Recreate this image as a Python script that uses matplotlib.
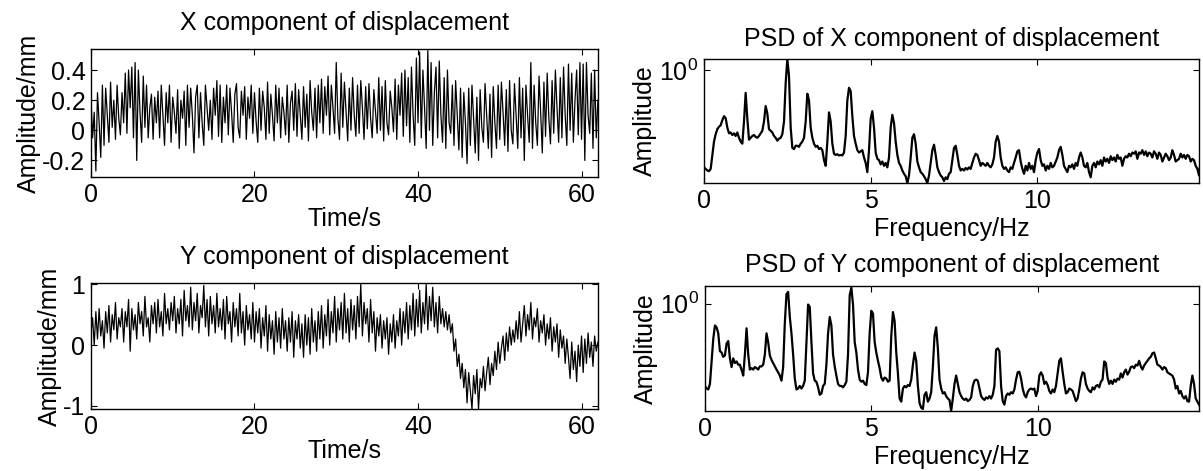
import numpy as np
import matplotlib
matplotlib.use("Agg")
import matplotlib.pyplot as plt
from matplotlib.ticker import FormatStrFormatter, NullLocator, FixedLocator

plt.rcParams['font.family'] = ['Liberation Sans', 'DejaVu Sans']
plt.rcParams['axes.unicode_minus'] = False

# ---- displacement time series (0.2 s spacing) ----
dt = 0.2
disp_x = [
    0.22, -0.05, 0.12, -0.27, 0.25, 0.05, -0.18, 0.30, -0.10, 0.28, 0.10, -0.08, 0.32, 0.02, 0.20, -0.06, 0.30, 0.08, -0.03, 0.25,
    0.05, 0.38, -0.02, 0.40, 0.15, 0.42, -0.05, 0.45, -0.20, 0.40, 0.12, -0.08, 0.36, 0.02, 0.30, -0.05, 0.15, 0.24, -0.06, 0.22,
    0.05, 0.26, -0.05, 0.30, 0.10, -0.10, 0.25, 0.05, 0.30, -0.08, 0.22, 0.12, -0.02, 0.27, -0.12, 0.20, 0.08, 0.26, -0.10, 0.30,
    0.02, 0.28, 0.10, -0.15, 0.22, 0.30, -0.05, 0.25, 0.05, -0.10, 0.30, 0.15, 0.00, 0.20, -0.06, 0.28, 0.10, 0.33, -0.04, 0.30,
    -0.08, 0.22, 0.05, 0.30, -0.03, 0.28, 0.12, -0.08, 0.24, 0.31, 0.02, -0.05, 0.26, 0.10, 0.29, -0.06, 0.22, 0.08, 0.30, -0.02,
    0.25, 0.06, -0.08, 0.28, 0.00, 0.26, 0.15, -0.06, 0.32, -0.02, 0.24, 0.10, -0.07, 0.30, 0.05, 0.28, -0.05, 0.22, 0.12, -0.03,
    0.30, -0.08, 0.18, 0.26, 0.00, 0.31, -0.04, 0.27, 0.10, -0.06, 0.29, 0.02, 0.24, -0.07, 0.33, 0.12, 0.00, 0.28, -0.05, 0.30,
    0.05, 0.34, -0.02, 0.29, 0.10, 0.36, -0.03, 0.30, 0.15, -0.02, 0.45, 0.08, -0.06, 0.38, 0.02, 0.32, 0.12, -0.07, 0.28, 0.00,
    0.35, 0.10, -0.04, 0.30, -0.02, 0.33, 0.15, -0.06, 0.29, 0.01, 0.31, 0.08, -0.05, 0.27, 0.12, -0.02, 0.35, 0.00, 0.29, -0.07,
    0.33, 0.05, -0.03, 0.26, 0.15, -0.01, 0.34, -0.06, 0.30, 0.10, 0.38, -0.04, 0.40, 0.03, 0.35, -0.08, 0.42, 0.10, -0.10, 0.48,
    0.05, 0.52, -0.05, 0.40, 0.15, -0.12, 0.53, 0.00, 0.45, -0.10, 0.25, 0.42, -0.05, 0.46, 0.10, -0.08, 0.35, -0.12, 0.40, 0.05,
    -0.02, 0.30, -0.10, 0.33, 0.10, -0.13, 0.28, -0.18, 0.25, 0.05, -0.22, 0.28, -0.10, 0.30, 0.08, -0.15, 0.22, -0.20, 0.27, 0.02,
    -0.08, 0.31, 0.10, -0.12, 0.24, -0.18, 0.29, 0.05, -0.12, 0.30, -0.06, 0.32, 0.12, -0.10, 0.27, -0.14, 0.33, 0.00, -0.09, 0.31,
    0.10, -0.12, 0.35, -0.05, 0.28, -0.20, 0.30, 0.10, -0.08, 0.45, -0.12, 0.30, 0.05, -0.10, 0.36, 0.12, -0.15, 0.32, -0.04, 0.38,
    0.08, -0.09, 0.33, -0.02, 0.40, 0.15, -0.08, 0.35, -0.05, 0.42, 0.10, -0.10, 0.44, 0.00, 0.38, -0.08, 0.20, 0.40, -0.03, 0.45,
    -0.06, 0.44, -0.20, 0.45, 0.10, -0.02, 0.38, -0.12, 0.40, -0.05, 0.20,
]
disp_y = [
    0.20, 0.45, 0.00, 0.55, 0.10, 0.60, 0.15, 0.40, -0.05, 0.55, 0.20, 0.65, 0.05, 0.50, 0.25, 0.70, 0.10, 0.45, 0.30, 0.60,
    0.05, 0.55, 0.30, 0.75, -0.10, 0.60, 0.25, 0.50, 0.10, 0.70, 0.35, 0.55, 0.15, 0.80, 0.30, 0.45, 0.05, 0.65, 0.35, 0.70,
    0.20, 0.75, 0.30, 0.55, 0.15, 0.85, 0.35, 0.60, 0.25, 0.70, 0.40, 0.80, 0.20, 0.60, 0.35, 0.75, 0.15, 0.90, 0.40, 0.65,
    0.30, 0.95, 0.25, 0.70, 0.40, 0.85, 0.20, 0.65, 0.45, 0.98, 0.30, 0.75, 0.15, 0.80, 0.35, 0.65, 0.20, 0.85, 0.30, 0.60,
    0.25, 0.75, 0.10, 0.80, 0.35, 0.55, 0.05, 0.70, 0.30, 0.60, 0.15, 0.85, 0.20, 0.55, 0.00, 0.65, 0.25, 0.50, 0.10, 0.70,
    0.05, 0.55, 0.20, 0.60, -0.05, 0.45, 0.15, 0.65, -0.10, 0.50, 0.10, 0.40, -0.15, 0.55, 0.05, 0.45, -0.05, 0.60, 0.10, 0.40,
    -0.10, 0.45, 0.05, 0.55, -0.20, 0.40, 0.10, 0.50, -0.05, 0.35, -0.20, 0.50, 0.00, 0.45, -0.15, 0.60, 0.05, 0.40, -0.10, 0.55,
    0.10, 0.65, -0.05, 0.50, 0.15, 0.75, 0.00, 0.55, 0.20, 0.80, 0.05, 0.60, 0.25, 0.70, 0.10, 0.85, 0.20, 0.60, 0.05, 0.75,
    0.25, 0.65, 0.10, 0.80, 0.30, 1.00, 0.15, 0.70, 0.35, 0.60, 0.05, 0.75, 0.20, 0.55, -0.10, 0.45, 0.15, 0.50, -0.05, 0.40,
    0.10, 0.45, -0.15, 0.35, 0.05, 0.50, -0.05, 0.40, 0.15, 0.60, 0.00, 0.55, 0.20, 0.70, 0.10, 0.65, 0.25, 0.85, 0.15, 0.75,
    0.30, 0.90, 0.20, 0.70, 0.35, 1.00, 0.25, 0.80, 0.40, 0.95, 0.30, 0.70, 0.20, 0.80, 0.35, 0.60, 0.30, 0.55, 0.25, 0.50,
    0.20, 0.35, -0.10, 0.10, -0.35, -0.15, -0.55, -0.30, -0.70, -0.40, -0.95, -0.45, -0.75, -1.05, -0.50, -0.80, -0.40, -1.05, -0.55, -0.70,
    -0.35, -0.75, -0.45, -0.20, -0.65, -0.30, -0.50, -0.10, -0.40, 0.05, -0.30, -0.05, 0.15, -0.25, 0.20, -0.10, 0.30, 0.00, 0.25, 0.05,
    0.40, 0.10, 0.55, 0.05, 0.35, 0.65, 0.15, 0.50, 0.25, 0.70, 0.10, 0.45, 0.30, 0.60, 0.05, 0.40, 0.20, 0.50, 0.00, 0.35,
    0.10, 0.45, -0.10, 0.30, 0.05, 0.35, -0.20, 0.25, -0.05, 0.15, -0.30, 0.10, -0.20, -0.55, 0.05, -0.40, -0.10, -0.60, 0.00, -0.35,
    0.15, -0.45, 0.10, -0.30, 0.20, -0.20, 0.05, -0.35, 0.15, -0.10, 0.05,
]

# ---- PSD curves (0.05 Hz spacing) ----
df = 0.05
psd_x = [
    0.195, 0.190, 0.185, 0.183, 0.190, 0.240, 0.300, 0.340, 0.370, 0.385, 0.395, 0.430, 0.460, 0.445, 0.380, 0.345, 0.350, 0.335, 0.345, 0.330,
    0.350, 0.320, 0.300, 0.290, 0.420, 0.680, 0.440, 0.310, 0.320, 0.330, 0.335, 0.325, 0.320, 0.330, 0.345, 0.360, 0.420, 0.545, 0.480, 0.370,
    0.360, 0.350, 0.330, 0.320, 0.305, 0.315, 0.320, 0.340, 0.420, 0.800, 1.200, 0.900, 0.380, 0.270, 0.265, 0.280, 0.280, 0.275, 0.290, 0.300,
    0.320, 0.420, 0.670, 0.600, 0.380, 0.320, 0.290, 0.275, 0.280, 0.265, 0.270, 0.260, 0.220, 0.200, 0.300, 0.490, 0.420, 0.290, 0.245, 0.240,
    0.243, 0.238, 0.240, 0.238, 0.250, 0.330, 0.600, 0.740, 0.700, 0.460, 0.330, 0.290, 0.260, 0.250, 0.255, 0.260, 0.230, 0.210, 0.180, 0.260,
    0.440, 0.500, 0.380, 0.250, 0.225, 0.220, 0.205, 0.215, 0.200, 0.210, 0.195, 0.230, 0.380, 0.470, 0.410, 0.300, 0.240, 0.210, 0.200, 0.185,
    0.175, 0.168, 0.150, 0.170, 0.230, 0.320, 0.340, 0.290, 0.215, 0.195, 0.180, 0.175, 0.168, 0.160, 0.150, 0.170, 0.210, 0.260, 0.285, 0.240,
    0.195, 0.180, 0.170, 0.165, 0.155, 0.165, 0.160, 0.175, 0.180, 0.220, 0.270, 0.280, 0.240, 0.200, 0.185, 0.190, 0.185, 0.193, 0.188, 0.195,
    0.190, 0.210, 0.230, 0.245, 0.240, 0.220, 0.200, 0.210, 0.205, 0.200, 0.210, 0.200, 0.195, 0.205, 0.230, 0.300, 0.330, 0.300, 0.230, 0.200,
    0.190, 0.195, 0.185, 0.180, 0.195, 0.190, 0.210, 0.230, 0.255, 0.260, 0.215, 0.190, 0.175, 0.200, 0.185, 0.210, 0.190, 0.200, 0.180, 0.220,
    0.250, 0.265, 0.220, 0.200, 0.205, 0.185, 0.200, 0.190, 0.210, 0.195, 0.200, 0.215, 0.230, 0.260, 0.275, 0.240, 0.200, 0.190, 0.180, 0.200,
    0.195, 0.205, 0.190, 0.210, 0.200, 0.230, 0.250, 0.230, 0.200, 0.195, 0.210, 0.180, 0.165, 0.200, 0.210, 0.195, 0.215, 0.205, 0.220, 0.200,
    0.230, 0.215, 0.225, 0.210, 0.235, 0.220, 0.230, 0.215, 0.240, 0.225, 0.230, 0.200, 0.225, 0.235, 0.230, 0.245, 0.235, 0.250, 0.245, 0.255,
    0.225, 0.250, 0.245, 0.260, 0.240, 0.255, 0.235, 0.250, 0.245, 0.230, 0.255, 0.245, 0.225, 0.250, 0.240, 0.215, 0.230, 0.245, 0.235, 0.220,
    0.230, 0.260, 0.240, 0.215, 0.220, 0.225, 0.245, 0.230, 0.240, 0.225, 0.240, 0.235, 0.215, 0.225, 0.220, 0.200, 0.190, 0.170, 0.220,
]
psd_y = [
    0.291, 0.280, 0.276, 0.300, 0.424, 0.590, 0.720, 0.700, 0.640, 0.490, 0.480, 0.450, 0.460, 0.550, 0.570, 0.440, 0.386, 0.440, 0.410, 0.420,
    0.400, 0.400, 0.370, 0.340, 0.466, 0.690, 0.466, 0.372, 0.380, 0.372, 0.386, 0.380, 0.372, 0.390, 0.390, 0.400, 0.466, 0.640, 0.560, 0.460,
    0.430, 0.410, 0.390, 0.372, 0.357, 0.340, 0.315, 0.386, 0.744, 1.150, 1.190, 0.820, 0.640, 0.466, 0.325, 0.276, 0.280, 0.291, 0.280, 0.291,
    0.315, 0.562, 0.985, 0.950, 0.562, 0.351, 0.315, 0.310, 0.285, 0.255, 0.260, 0.291, 0.300, 0.400, 0.640, 0.817, 0.720, 0.466, 0.390, 0.340,
    0.300, 0.291, 0.291, 0.285, 0.295, 0.310, 0.466, 1.130, 1.270, 0.985, 0.562, 0.480, 0.372, 0.320, 0.310, 0.315, 0.300, 0.295, 0.357, 0.640,
    0.897, 0.860, 0.562, 0.480, 0.424, 0.380, 0.330, 0.315, 0.330, 0.325, 0.310, 0.315, 0.616, 0.880, 0.770, 0.480, 0.351, 0.241, 0.230, 0.280,
    0.291, 0.285, 0.295, 0.291, 0.320, 0.400, 0.480, 0.424, 0.291, 0.225, 0.210, 0.206, 0.255, 0.265, 0.230, 0.241, 0.265, 0.386, 0.616, 0.700,
    0.511, 0.320, 0.280, 0.260, 0.265, 0.250, 0.241, 0.236, 0.200, 0.241, 0.300, 0.340, 0.300, 0.265, 0.250, 0.241, 0.236, 0.241, 0.232, 0.236,
    0.245, 0.291, 0.315, 0.320, 0.315, 0.280, 0.250, 0.241, 0.236, 0.245, 0.241, 0.250, 0.241, 0.255, 0.291, 0.500, 0.511, 0.490, 0.291, 0.232,
    0.220, 0.250, 0.260, 0.255, 0.265, 0.260, 0.276, 0.320, 0.357, 0.360, 0.325, 0.280, 0.255, 0.245, 0.265, 0.276, 0.280, 0.276, 0.280, 0.250,
    0.270, 0.340, 0.357, 0.340, 0.300, 0.310, 0.295, 0.270, 0.260, 0.276, 0.265, 0.291, 0.351, 0.424, 0.440, 0.360, 0.300, 0.260, 0.265, 0.280,
    0.276, 0.270, 0.250, 0.232, 0.241, 0.276, 0.325, 0.357, 0.351, 0.300, 0.280, 0.270, 0.265, 0.285, 0.276, 0.291, 0.295, 0.285, 0.310, 0.320,
    0.420, 0.410, 0.330, 0.300, 0.315, 0.300, 0.320, 0.310, 0.325, 0.320, 0.351, 0.330, 0.357, 0.372, 0.345, 0.360, 0.386, 0.390, 0.380, 0.400,
    0.395, 0.424, 0.390, 0.372, 0.395, 0.410, 0.424, 0.440, 0.450, 0.475, 0.480, 0.440, 0.400, 0.395, 0.386, 0.372, 0.386, 0.380, 0.357, 0.351,
    0.345, 0.340, 0.320, 0.280, 0.291, 0.260, 0.270, 0.250, 0.241, 0.250, 0.232, 0.230, 0.291, 0.340, 0.300, 0.241, 0.230, 0.220, 0.210,
]

t_x = np.arange(len(disp_x)) * dt
t_y = np.arange(len(disp_y)) * dt
f_x = np.arange(len(psd_x)) * df
f_y = np.arange(len(psd_y)) * df

FS = 18

fig = plt.figure(figsize=(12.03, 4.71), dpi=100)

ax1 = fig.add_axes([0.0756, 0.6242, 0.4214, 0.2718])
ax2 = fig.add_axes([0.0756, 0.1316, 0.4214, 0.2675])
ax3 = fig.add_axes([0.5852, 0.6115, 0.4115, 0.2633])
ax4 = fig.add_axes([0.5860, 0.1274, 0.4107, 0.2654])


def matlab_style(ax):
    ax.tick_params(direction='in', top=True, right=True, length=4, width=0.8,
                   labelsize=FS, pad=4)
    for s in ax.spines.values():
        s.set_linewidth(1.0)


ax1.plot(t_x, disp_x, color='k', linewidth=0.9)
ax1.set_xlim(0, 62)
ax1.set_ylim(-0.31, 0.54)
ax1.set_yticks([-0.2, 0, 0.2, 0.4])
ax1.set_xticks([0, 20, 40, 60])
ax1.yaxis.set_major_formatter(FormatStrFormatter('%g'))
ax1.set_title('X component of displacement', fontsize=FS, pad=14)
ax1.set_xlabel('Time/s', fontsize=FS, labelpad=0)
ax1.set_ylabel('Amplitude/mm', fontsize=FS, labelpad=1)
matlab_style(ax1)

ax2.plot(t_y, disp_y, color='k', linewidth=0.9)
ax2.set_xlim(0, 62)
ax2.set_ylim(-1.05, 1.02)
ax2.set_yticks([-1, 0, 1])
ax2.set_xticks([0, 20, 40, 60])
ax2.yaxis.set_major_formatter(FormatStrFormatter('%g'))
ax2.set_title('Y component of displacement', fontsize=FS, pad=14)
ax2.set_xlabel('Time/s', fontsize=FS, labelpad=0)
ax2.set_ylabel('Amplitude/mm', fontsize=FS, labelpad=1)
matlab_style(ax2)

for ax, f, p, ylim, title, tpad in [
        (ax3, f_x, psd_x, (0.15, 1.2), 'PSD of X component of displacement', 9),
        (ax4, f_y, psd_y, (0.2, 1.3), 'PSD of Y component of displacement', 10)]:
    ax.semilogy(f, p, color='k', linewidth=1.6)
    ax.set_xlim(0, 14.85)
    ax.set_ylim(*ylim)
    ax.set_xticks([0, 5, 10])
    ax.yaxis.set_major_locator(FixedLocator([1.0]))
    ax.yaxis.set_minor_locator(NullLocator())
    ax.set_title(title, fontsize=FS, pad=tpad)
    ax.set_xlabel('Frequency/Hz', fontsize=FS, labelpad=3)
    ax.set_ylabel('Amplitude', fontsize=FS, labelpad=2)
    matlab_style(ax)

fig.savefig('out.png', dpi=100)
